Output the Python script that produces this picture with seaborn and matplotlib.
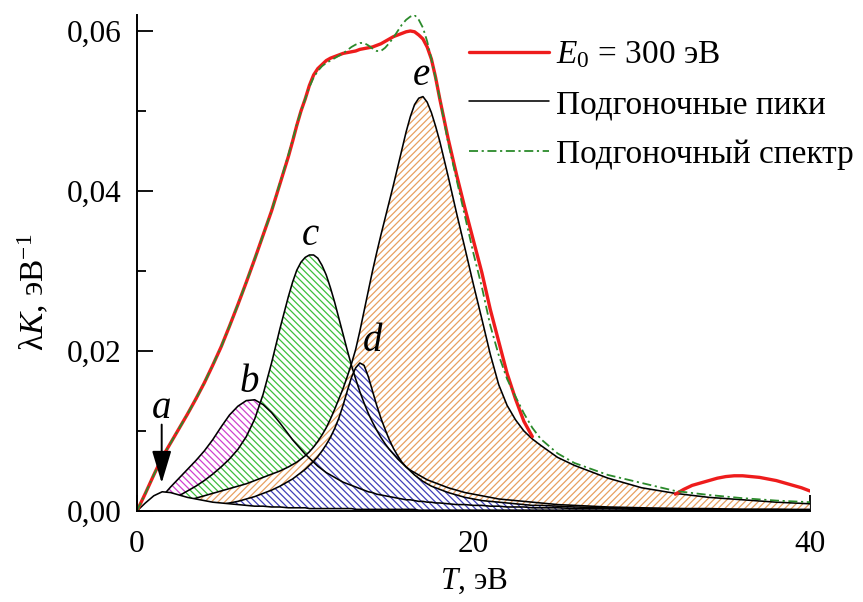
import matplotlib
matplotlib.use('Agg')
import matplotlib.pyplot as plt
import seaborn as sns
from matplotlib.lines import Line2D
from matplotlib.ticker import FixedLocator

# ---------------- data ----------------
T = ([0, 0.5, 1, 1.5, 2, 2.5, 3, 3.5, 4, 4.5, 5, 5.5, 6, 6.5, 7, 7.5, 8, 8.5, 9]
     + [9.25, 9.5, 9.75, 10, 10.25, 10.5, 10.75, 11, 11.25, 11.5, 11.75, 12,
        12.25, 12.5, 12.75, 13, 13.25, 13.5, 13.75, 14, 14.25, 14.5, 14.75, 15,
        15.25, 15.5, 15.75, 16, 16.25, 16.5, 16.75, 17, 17.25, 17.5, 17.75, 18]
     + [18.5, 19, 19.5, 20, 20.5, 21, 21.5, 22, 22.5, 23, 23.5, 24]
     + [25, 26, 28, 30, 32, 34, 36, 38, 40])

peak_a = ([0, 0.0010, 0.0019, 0.0024, 0.0023, 0.0020, 0.0017, 0.0015, 0.0013, 0.0011,
           0.0010, 0.0009, 0.0008, 0.0007, 0.0006, 0.0006, 0.0005, 0.0005, 0.0004]
          + [0.0004] * 4 + [0.0003] * 11 + [0.0002] * 15 + [0.0001] * 6
          + [0.0001] * 12
          + [0.0001] * 9)

peak_b = ([0, 0.0003, 0.0008, 0.0018, 0.0030, 0.0041, 0.0052, 0.0063, 0.0075, 0.0089,
           0.0105, 0.0120, 0.0131, 0.0138, 0.0139, 0.0133, 0.0123, 0.0110, 0.0096]
          + [0.0089, 0.0083, 0.0077, 0.0071, 0.0066, 0.0061, 0.0056, 0.0052, 0.0048, 0.0045,
             0.0042, 0.0039, 0.0036, 0.0034, 0.0032, 0.0030, 0.0028, 0.0026, 0.0024, 0.0023,
             0.0021, 0.0020, 0.0019, 0.0018, 0.0017, 0.0016, 0.0015, 0.0014, 0.0014, 0.0013,
             0.0012, 0.0012, 0.0011, 0.0011, 0.0010, 0.0010]
          + [0.0009, 0.0008, 0.0008, 0.0007, 0.0007, 0.0006, 0.0006, 0.0005, 0.0005, 0.0005,
             0.0004, 0.0004]
          + [0.0004, 0.0003, 0.0003, 0.0002, 0.0002, 0.0002, 0.0001, 0.0001, 0.0001])

peak_c = ([0, 0.0002, 0.0005, 0.0009, 0.0013, 0.0019, 0.0025, 0.0031, 0.0038, 0.0046,
           0.0055, 0.0065, 0.0077, 0.0093, 0.0115, 0.0146, 0.0185, 0.0228, 0.0268]
          + [0.0286, 0.0301, 0.0311, 0.0317, 0.0320, 0.0320, 0.0316, 0.0307, 0.0295, 0.0279,
             0.0261, 0.0241, 0.0221, 0.0201, 0.0182, 0.0165, 0.0149, 0.0135, 0.0122, 0.0111,
             0.0101, 0.0092, 0.0084, 0.0077, 0.0071, 0.0065, 0.0060, 0.0055, 0.0051, 0.0048,
             0.0045, 0.0042, 0.0039, 0.0037, 0.0035, 0.0033]
          + [0.0029, 0.0026, 0.0023, 0.0021, 0.0019, 0.0017, 0.0015, 0.0014, 0.0013, 0.0012,
             0.0011, 0.0010]
          + [0.0008, 0.0007, 0.0005, 0.0004, 0.0003, 0.0003, 0.0002, 0.0002, 0.0002])

peak_d = ([0, 0, 0.0001, 0.0001, 0.0002, 0.0002, 0.0003, 0.0004, 0.0005, 0.0006,
           0.0008, 0.0010, 0.0012, 0.0015, 0.0018, 0.0022, 0.0026, 0.0031, 0.0037]
          + [0.0040, 0.0044, 0.0048, 0.0052, 0.0057, 0.0062, 0.0068, 0.0075, 0.0083, 0.0092,
             0.0103, 0.0116, 0.0132, 0.0150, 0.0167, 0.0179, 0.0185, 0.0182, 0.0168, 0.0150,
             0.0132, 0.0116, 0.0102, 0.0089, 0.0078, 0.0069, 0.0061, 0.0055, 0.0050, 0.0045,
             0.0041, 0.0037, 0.0034, 0.0031, 0.0029, 0.0027]
          + [0.0023, 0.0020, 0.0017, 0.0015, 0.0013, 0.0012, 0.0011, 0.0010, 0.0009, 0.0008,
             0.0007, 0.0007]
          + [0.0006, 0.0005, 0.0004, 0.0003, 0.0003, 0.0002, 0.0002, 0.0002, 0.0001])

peak_e = ([0, 0.0001, 0.0003, 0.0005, 0.0007, 0.0010, 0.0013, 0.0016, 0.0019, 0.0022,
           0.0025, 0.0028, 0.0031, 0.0034, 0.0038, 0.0042, 0.0046, 0.0050, 0.0055]
          + [0.0058, 0.0061, 0.0065, 0.0069, 0.0074, 0.0080, 0.0087, 0.0095, 0.0104, 0.0115,
             0.0127, 0.0140, 0.0153, 0.0168, 0.0184, 0.0202, 0.0225, 0.0250, 0.0275, 0.0300,
             0.0323, 0.0345, 0.0366, 0.0387, 0.0408, 0.0430, 0.0452, 0.0474, 0.0493, 0.0508,
             0.0516, 0.0518, 0.0511, 0.0498, 0.0481, 0.0462]
          + [0.0418, 0.0372, 0.0328, 0.0283, 0.0240, 0.0196, 0.0158, 0.0132, 0.0114, 0.0100,
             0.0090, 0.0082]
          + [0.0067, 0.0057, 0.0041, 0.0029, 0.0022, 0.0017, 0.0014, 0.0011, 0.0009])

fit_spectrum = ([0, 0.0022, 0.0045, 0.0067, 0.0085, 0.0103, 0.0121, 0.0140, 0.0160, 0.0182,
                 0.0205, 0.0231, 0.0258, 0.0286, 0.0315, 0.0345, 0.0375, 0.0410, 0.0445]
                + [0.0464, 0.0483, 0.0500, 0.0515, 0.0530, 0.0542, 0.0550, 0.0556, 0.0560, 0.0563,
                   0.0566, 0.0569, 0.0572, 0.0576, 0.0580, 0.0583, 0.0585, 0.0585, 0.0582, 0.0578,
                   0.0575, 0.0575, 0.0579, 0.0585, 0.0592, 0.0600, 0.0608, 0.0614, 0.0618, 0.0620,
                   0.0614, 0.0604, 0.0587, 0.0565, 0.0541, 0.0516]
                + [0.0460, 0.0414, 0.0368, 0.0322, 0.0280, 0.0232, 0.0195, 0.0165, 0.0143, 0.0122,
                   0.0104, 0.0090]
                + [0.0072, 0.0060, 0.0045, 0.0035, 0.0025, 0.0020, 0.0016, 0.0013, 0.0011])

T_exp = T[:66]
exp_main = ([0, 0.0022, 0.0045, 0.0067, 0.0085, 0.0103, 0.0121, 0.0140, 0.0160, 0.0182,
             0.0205, 0.0231, 0.0258, 0.0286, 0.0315, 0.0345, 0.0375, 0.0409, 0.0443]
            + [0.0462, 0.0482, 0.0500, 0.0515, 0.0532, 0.0545, 0.0553, 0.0558, 0.0563, 0.0566,
               0.0568, 0.0570, 0.0572, 0.0573, 0.0574, 0.0575, 0.0577, 0.0578, 0.0579, 0.0580,
               0.0582, 0.0584, 0.0587, 0.0590, 0.0593, 0.0595, 0.0597, 0.0599, 0.0600, 0.0599,
               0.0595, 0.0590, 0.0580, 0.0565, 0.0542, 0.0515]
            + [0.0465, 0.0420, 0.0378, 0.0338, 0.0298, 0.0252, 0.0212, 0.0172, 0.0140, 0.0112,
               0.0093])

T_bump = [32, 32.5, 33, 33.5, 34, 34.5, 35, 35.5, 36, 36.5, 37, 37.5, 38, 38.5, 39, 39.5, 40]
exp_bump = [0.0021, 0.0027, 0.0032, 0.0035, 0.0038, 0.0041, 0.0043, 0.0044, 0.0044, 0.0043,
            0.0042, 0.0040, 0.0038, 0.0035, 0.0032, 0.0029, 0.0025]

x_ticks = [0, 20, 40]
x_minor = [10, 30]
y_ticks = [0.00, 0.02, 0.04, 0.06]
y_minor = [0.01, 0.03, 0.05]
y_tick_labels = ['0,00', '0,02', '0,04', '0,06']
legend_labels = [r'$E_0$ = 300 эВ', 'Подгоночные пики', 'Подгоночный спектр']

# ---------------- style ----------------
sns.set_theme(style='ticks')
plt.rcParams['font.family'] = ['Liberation Serif', 'DejaVu Serif']
plt.rcParams['mathtext.fontset'] = 'custom'
plt.rcParams['mathtext.rm'] = 'Liberation Serif'
plt.rcParams['mathtext.it'] = 'Liberation Serif:italic'
plt.rcParams['mathtext.bf'] = 'Liberation Serif:bold'
plt.rcParams['hatch.linewidth'] = 0.9
for k in ('text.color', 'axes.labelcolor', 'xtick.color', 'ytick.color', 'axes.edgecolor'):
    plt.rcParams[k] = 'black'

RED = '#ee1c1c'
GREEN = '#2b8a2b'
FS = 22.5

fig = plt.figure(figsize=(8.63, 6.02), dpi=100)
fig.patch.set_facecolor('white')
ax = fig.add_axes([0.1587, 0.1512, 0.7798, 0.8239])
ax.set_facecolor('white')

# hatched fills (order: b, c, e, d)
fills = [(peak_b, '#d040d0', '\\\\\\\\\\', 1.0),
         (peak_c, '#3cbf3c', '\\\\\\\\\\', 1.1),
         (peak_e, '#e8a060', '/////', 1.2),
         (peak_d, '#4040b8', '\\\\\\\\\\', 1.3)]
for arr, col, hatch, z in fills:
    ax.fill_between(T, 0, arr, facecolor='white', edgecolor=col, hatch=hatch,
                    linewidth=0, zorder=z)

for arr in (peak_b, peak_c, peak_d, peak_e):
    sns.lineplot(x=T, y=arr, ax=ax, color='black', linewidth=1.15, zorder=2.0)

# peak a: white fill on top hides other outlines underneath
ax.fill_between(T, 0, peak_a, facecolor='white', edgecolor='none', linewidth=0, zorder=2.1)
sns.lineplot(x=T, y=peak_a, ax=ax, color='black', linewidth=1.15, zorder=2.2)

# experimental spectrum
sns.lineplot(x=T_exp, y=exp_main, ax=ax, color=RED, linewidth=2.4, zorder=2.3)
sns.lineplot(x=T_bump, y=exp_bump, ax=ax, color=RED, linewidth=2.4, zorder=2.3)

# fitted spectrum
g = sns.lineplot(x=T, y=fit_spectrum, ax=ax, color=GREEN, linewidth=1.3, zorder=2.4)
g.lines[-1].set_dashes([5, 2, 1.2, 2])

# axes
ax.set_xlim(0, 40)
ax.set_ylim(0, 0.062)
ax.xaxis.set_major_locator(FixedLocator(x_ticks))
ax.xaxis.set_minor_locator(FixedLocator(x_minor))
ax.yaxis.set_major_locator(FixedLocator(y_ticks))
ax.yaxis.set_minor_locator(FixedLocator(y_minor))
ax.set_xticklabels([str(v) for v in x_ticks])
ax.set_yticklabels(y_tick_labels)
ax.tick_params(which='major', direction='in', length=11.5, width=1.3, labelsize=FS,
               colors='black')
ax.tick_params(which='minor', direction='in', length=6.5, width=1.3)
ax.tick_params(axis='x', which='major', pad=14)
ax.tick_params(axis='y', which='major', pad=11)
ax.set_axisbelow(True)
for s in ('top', 'right'):
    ax.spines[s].set_visible(False)
for s in ('left', 'bottom'):
    ax.spines[s].set_linewidth(1.4)
    ax.spines[s].set_color('black')
    ax.spines[s].set_zorder(3)

ax.set_xlabel(r'$T$, эВ', fontsize=FS, labelpad=5)
ax.set_ylabel(r'λ$K$, эВ$^{-1}$', fontsize=24)
ax.yaxis.set_label_coords(-0.128, 0.44)

# peak letters
for txt, tx, ty in [('a', 1.49, 0.0116), ('b', 6.7, 0.0149), ('c', 10.3, 0.0333),
                    ('d', 14.0, 0.0200), ('e', 16.93, 0.0533)]:
    ax.text(tx, ty, txt, fontsize=28, style='italic', ha='center', va='baseline',
            zorder=4)

ax.annotate('', xy=(1.47, 0.0035), xytext=(1.47, 0.0108),
            arrowprops=dict(arrowstyle='-|>,head_length=2.0,head_width=0.6',
                            color='black', lw=1.4, shrinkA=0, shrinkB=0,
                            mutation_scale=10), zorder=4)

handles = [Line2D([], [], color=RED, linewidth=2.4),
           Line2D([], [], color='black', linewidth=1.15),
           Line2D([], [], color=GREEN, linewidth=1.3, dashes=[5, 2, 1.2, 2])]
leg = ax.legend(handles, legend_labels, loc='upper left',
                bbox_to_anchor=(0.5435, 0.934), bbox_transform=fig.transFigure,
                frameon=False, fontsize=24, handlelength=2.4, handletextpad=0.2,
                labelspacing=0.57, borderpad=0, borderaxespad=0)
leg.set_zorder(5)

fig.savefig('out.png', dpi=100, facecolor='white')
